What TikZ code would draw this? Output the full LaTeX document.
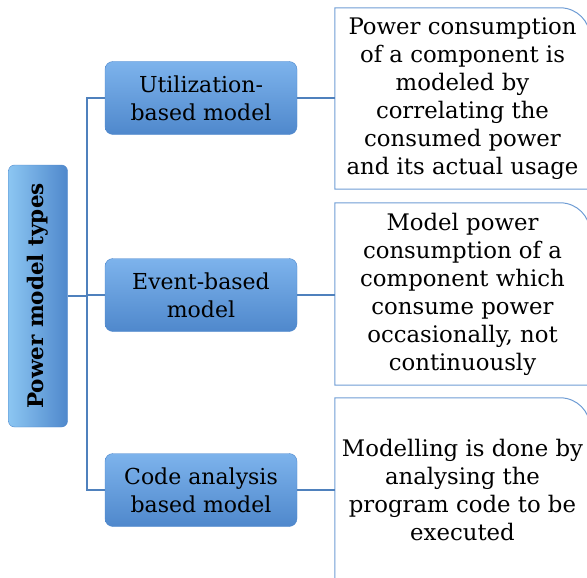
\documentclass[tikz,border=0pt]{standalone}
\usepackage{fontspec}
\setmainfont{DejaVu Serif}
\usetikzlibrary{calc}
\definecolor{lineblue}{HTML}{4F81BD}
\definecolor{boxtop}{HTML}{7DB3EC}
\definecolor{boxbot}{HTML}{4F88CC}
\definecolor{rootl}{HTML}{8CC6F2}
\definecolor{rootr}{HTML}{4F88CC}
\definecolor{rborder}{HTML}{6E9CD4}
\begin{document}
\begin{tikzpicture}[x=1pt,y=-1pt,
  conn/.style={draw=lineblue, line width=1.2pt},
  bluebox/.style={rectangle, rounded corners=8pt, top color=boxtop, bottom color=boxbot,
     draw=boxbot, line width=0.4pt, align=center, inner sep=0pt,
     font=\fontsize{22}{28}\selectfont},
  descbox/.style={rectangle, inner sep=0pt, align=center, font=\fontsize{22.8}{28}\selectfont}
]
\useasboundingbox (0,0) rectangle (587,578);
% root
\node[bluebox, rounded corners=6pt, left color=rootl, right color=rootr, minimum width=59pt, minimum height=262pt, font=\fontsize{21.5}{28}\selectfont\bfseries] (root) at (38,296) {\rotatebox{90}{Power model types}};
% middle
\node[bluebox, minimum width=192pt, minimum height=73pt] (m1) at (201,98) {Utilization-\\based model};
\node[bluebox, minimum width=192pt, minimum height=73pt] (m2) at (201,295) {Event-based\\model};
\node[bluebox, minimum width=192pt, minimum height=73pt] (m3) at (201,490) {Code analysis\\based model};
% right
\node[descbox, minimum width=255pt, minimum height=181pt] (r1) at (462.5,98.5) {Power consumption\\of a component is\\modeled by\\correlating the\\consumed power\\and its actual usage};
\node[descbox, minimum width=255pt, minimum height=182pt] (r2) at (462.5,294) {Model power\\consumption of a\\component which\\consume power\\occasionally, not\\continuously};
\node[descbox, minimum width=255pt, minimum height=184pt] (r3) at (462.5,490) {Modelling is done by\\analysing the\\program code to be\\executed};
\foreach \r in {r1,r2,r3}{
  \draw[draw=rborder, line width=1pt] (\r.south west) -- (\r.north west) -- ($(\r.north east)+(-30,0)$)
     arc[start angle=90, end angle=0, radius=30pt] -- (\r.south east) -- cycle;
}
% connectors
\coordinate (t1) at (87,98);
\coordinate (t3) at (87,490);
\draw[conn] (m1.west) -- (t1) -- (t3) -- (m3.west);
\draw[conn] (root.east) -- (root.east -| t1);
\draw[conn] (m2.west) -- (m2.west -| t1);
\draw[conn] (m1.east) -- (m1.east -| r1.west);
\draw[conn] (m2.east) -- (m2.east -| r2.west);
\draw[conn] (m3.east) -- (m3.east -| r3.west);
\end{tikzpicture}
\end{document}
